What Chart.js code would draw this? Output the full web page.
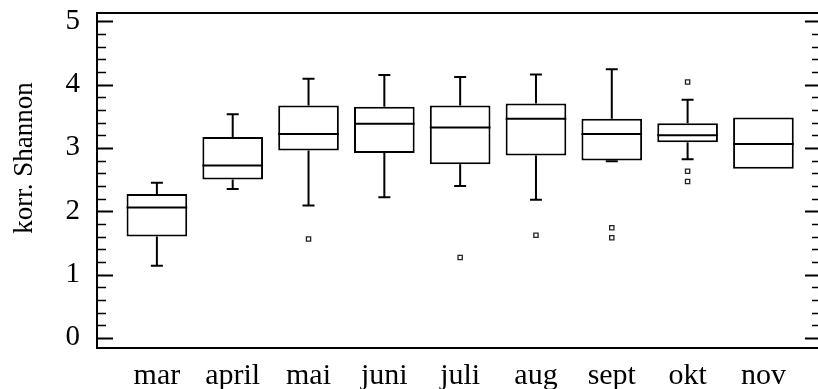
<!DOCTYPE html>
<html>
<head>
<meta charset="utf-8">
<script src="https://cdn.jsdelivr.net/npm/chart.js@4.4.0/dist/chart.umd.min.js"></script>
<style>
  html, body { margin: 0; padding: 0; background: #fff; }
  #wrap { width: 818px; height: 389px; position: relative; }
</style>
</head>
<body>
<div id="wrap"><canvas id="boxChart"></canvas></div>
<script>
// --- data ---
const categories  = ['mar', 'april', 'mai', 'juni', 'juli', 'aug', 'sept', 'okt', 'nov'];
const whiskerLow  = [1.14, 2.35, 2.09, 2.22, 2.40, 2.18, 2.79, 2.82, 2.67];
const q1          = [1.60, 2.50, 2.96, 2.92, 2.74, 2.88, 2.80, 3.09, 2.67];
const median      = [2.06, 2.72, 3.22, 3.38, 3.32, 3.46, 3.22, 3.20, 3.06];
const q3          = [2.27, 3.17, 3.67, 3.65, 3.67, 3.70, 3.46, 3.39, 3.48];
const whiskerHigh = [2.45, 3.53, 4.09, 4.15, 4.12, 4.16, 4.24, 3.76, 3.48];

const outlierMonth = ['mai', 'juli', 'aug', 'sept', 'sept', 'okt', 'okt', 'okt'];
const outlierValue = [1.56, 1.27, 1.62, 1.74, 1.58, 4.04, 2.63, 2.47];

const yTicks = [0, 1, 2, 3, 4, 5];
const yTitle = 'korr. Shannon';

// --- helpers ---
const pos = name => categories.indexOf(name) + 1;
const SERIF = '"Liberation Serif", "Times New Roman", serif';

const boxData = categories.map((c, i) => ({ x: i + 1, y: [q1[i], q3[i]] }));
const outlierData = outlierMonth.map((m, i) => ({ x: pos(m), y: outlierValue[i] }));

// whiskers, medians, frame, inward ticks and the axis title
const boxPlugin = {
    id: 'boxExtras',
    afterDatasetsDraw(chart) {
        const { ctx, chartArea: a, scales: { x, y } } = chart;
        const meta = chart.getDatasetMeta(0);
        ctx.save();
        ctx.strokeStyle = '#000';
        ctx.lineWidth = 2;
        ctx.lineCap = 'butt';

        categories.forEach((c, i) => {
            const bar = meta.data[i];
            const cx = x.getPixelForValue(i + 1);
            const half = bar.width / 2;
            const cap = 6;
            // median
            const ym = y.getPixelForValue(median[i]);
            ctx.beginPath();
            ctx.moveTo(cx - half, ym);
            ctx.lineTo(cx + half, ym);
            ctx.stroke();
            // whiskers
            const segs = [[q3[i], whiskerHigh[i]], [q1[i], whiskerLow[i]]];
            segs.forEach(([from, to]) => {
                if (from === to) return;
                const y0 = y.getPixelForValue(from);
                const y1 = y.getPixelForValue(to);
                ctx.beginPath();
                ctx.moveTo(cx, y0);
                ctx.lineTo(cx, y1);
                ctx.moveTo(cx - cap, y1);
                ctx.lineTo(cx + cap, y1);
                ctx.stroke();
            });
        });

        // frame (right edge falls just outside the picture)
        ctx.lineWidth = 2;
        ctx.beginPath();
        ctx.moveTo(chart.width, a.top);
        ctx.lineTo(a.left, a.top);
        ctx.lineTo(a.left, a.bottom);
        ctx.lineTo(chart.width, a.bottom);
        ctx.stroke();

        // major / minor ticks pointing inward, both sides
        const rx = chart.width;
        const minor = [];
        for (let k = 0; k < yTicks.length - 1; k++) {
            for (let s = 1; s < 5; s++) minor.push(yTicks[k] + s * (yTicks[k + 1] - yTicks[k]) / 5);
        }
        ctx.lineWidth = 2;
        yTicks.forEach(v => {
            const py = Math.round(y.getPixelForValue(v)) + 0.5;
            ctx.beginPath();
            ctx.moveTo(a.left, py); ctx.lineTo(a.left + 16, py);
            ctx.moveTo(rx, py); ctx.lineTo(rx - 13, py);
            ctx.stroke();
        });
        ctx.lineWidth = 1.6;
        minor.forEach(v => {
            const py = Math.round(y.getPixelForValue(v)) + 0.5;
            ctx.beginPath();
            ctx.moveTo(a.left, py); ctx.lineTo(a.left + 9, py);
            ctx.moveTo(rx, py); ctx.lineTo(rx - 6, py);
            ctx.stroke();
        });

        // y axis title (sits a bit above the plot middle in the original)
        ctx.fillStyle = '#000';
        ctx.font = '27px ' + SERIF;
        ctx.textAlign = 'center';
        ctx.textBaseline = 'middle';
        ctx.translate(25, 158);
        ctx.rotate(-Math.PI / 2);
        ctx.fillText(yTitle, 0, 0);
        ctx.restore();
    }
};

new Chart(document.getElementById('boxChart'), {
    type: 'bar',
    data: {
        datasets: [{
            label: 'box',
            data: boxData,
            backgroundColor: '#fff',
            borderColor: '#000',
            borderWidth: 2,
            borderSkipped: false,
            barPercentage: 0.8,
            categoryPercentage: 1.0
        }, {
            type: 'scatter',
            label: 'outliers',
            data: outlierData,
            pointStyle: 'rect',
            radius: 3,
            backgroundColor: '#fff',
            borderColor: '#222',
            borderWidth: 1.3
        }]
    },
    options: {
        responsive: true,
        maintainAspectRatio: false,
        devicePixelRatio: 1,
        animation: false,
        layout: { padding: { top: 13, right: 0, left: 0, bottom: 0 } },
        plugins: {
            legend: { display: false },
            tooltip: { enabled: false }
        },
        scales: {
            x: {
                type: 'linear',
                min: 0.21,
                max: 9.65,
                offset: false,
                grid: { display: false },
                border: { display: false },
                afterBuildTicks: s => { s.ticks = categories.map((c, i) => ({ value: i + 1 })); },
                afterFit: s => { s.height = 41; s.paddingLeft = 0; s.paddingRight = 0; },
                ticks: {
                    autoSkip: false,
                    maxRotation: 0,
                    padding: 2,
                    color: '#000',
                    font: { family: SERIF, size: 30 },
                    callback: v => categories[v - 1]
                }
            },
            y: {
                min: -0.16,
                max: 5.13,
                grid: { display: false },
                border: { display: false },
                afterBuildTicks: s => { s.ticks = yTicks.map(v => ({ value: v })); },
                afterFit: s => { s.width = 97; s.paddingTop = 0; s.paddingBottom = 0; },
                ticks: {
                    padding: 9,
                    color: '#000',
                    font: { family: SERIF, size: 29 }
                }
            }
        }
    },
    plugins: [boxPlugin]
});
</script>
</body>
</html>
